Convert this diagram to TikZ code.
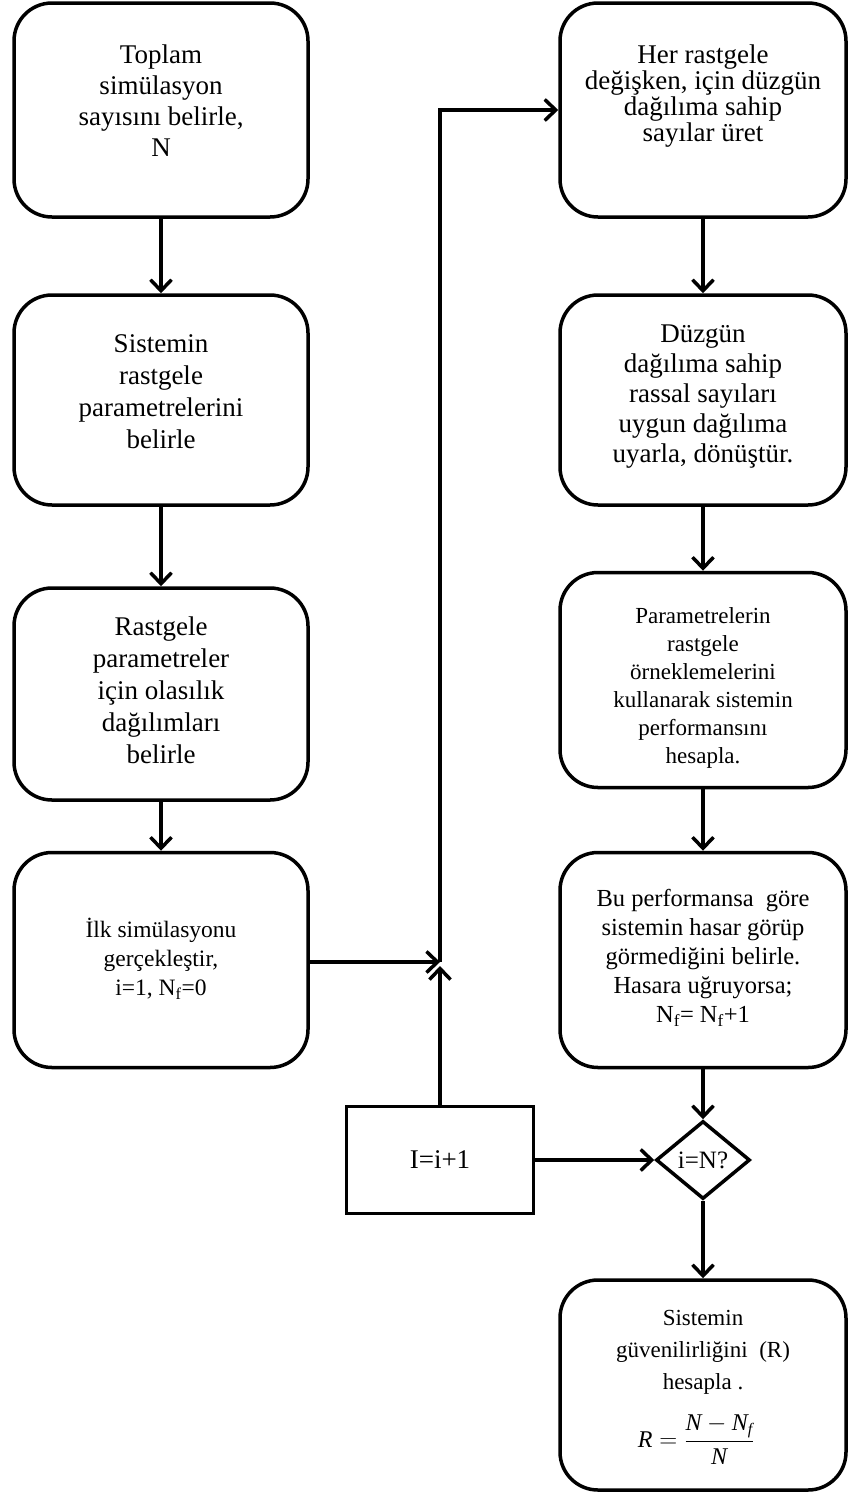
\documentclass[tikz,border=0pt]{standalone}
\usepackage{fontspec}
\setmainfont{Liberation Serif}
\usetikzlibrary{arrows.meta,shapes.geometric}
\begin{document}
\begin{tikzpicture}[x=1pt,y=-1pt,
  box/.style={draw,line width=3.5pt,rounded corners=38pt,inner sep=0pt},
  lbox/.style={box,minimum width=294pt},
  rbox/.style={box,minimum width=286pt},
  txt/.style={align=center,inner sep=0pt},
  fbig/.style={txt,font=\fontsize{27}{31}\selectfont},
  plain/.style={draw,line width=3.5pt,inner sep=0pt,font=\fontsize{27}{31}\selectfont},
  conn/.style={line width=3.5pt,-{Straight Barb[length=11pt,width=21pt]}},
  seg/.style={line width=3.5pt}
]
\useasboundingbox (0,0) rectangle (848,1494);
% left column boxes
\node[lbox,minimum height=214pt] (l1) at (161,110) {};
\node[lbox,minimum height=210pt] (l2) at (161,400) {};
\node[lbox,minimum height=212pt] (l3) at (161,694) {};
\node[lbox,minimum height=215pt] (l4) at (161,960) {};
% right column boxes
\node[rbox,minimum height=214pt] (r1) at (703,110) {};
\node[rbox,minimum height=210pt] (r2) at (703,400) {};
\node[rbox,minimum height=215pt] (r3) at (703,680) {};
\node[rbox,minimum height=215pt] (r4) at (703,960) {};
\node[rbox,minimum height=210pt] (r5) at (703,1385) {};
% texts
\node[fbig] (l1t) at (161,100.5) {Toplam\\simülasyon\\sayısını belirle,\\N};
\node[txt,font=\fontsize{27}{32}\selectfont] (l2t) at (161,392) {Sistemin\\rastgele\\parametrelerini\\belirle};
\node[txt,font=\fontsize{27}{32}\selectfont] (l3t) at (161,690) {Rastgele\\parametreler\\için olasılık\\dağılımları\\belirle};
\node[txt,font=\fontsize{23.5}{29}\selectfont] (l4t) at (161,959) {İlk simülasyonu\\gerçekleştir,\\i=1, N\textsubscript{f}=0};
\node[txt,font=\fontsize{27}{26}\selectfont] (r1t) at (703,96) {Her rastgele\\değişken, için düzgün\\dağılıma sahip\\sayılar üret};
\node[txt,font=\fontsize{27}{30}\selectfont] (r2t) at (703,397) {Düzgün\\dağılıma sahip\\rassal sayıları\\uygun dağılıma\\uyarla, dönüştür.};
\node[txt,font=\fontsize{23}{28}\selectfont] (r3t) at (703,688) {Parametrelerin\\rastgele\\örneklemelerini\\kullanarak sistemin\\performansını\\hesapla.};
\node[txt,font=\fontsize{24.5}{29}\selectfont] (r4t) at (703,958) {Bu performansa\ \ göre\\sistemin hasar görüp\\görmediğini belirle.\\Hasara uğruyorsa;\\N\textsubscript{f}= N\textsubscript{f}+1};
\node[txt,font=\fontsize{23}{32}\selectfont] (r5t) at (703,1352) {Sistemin\\güvenilirliğini\ \ (R)\\hesapla .};
\node[txt,font=\fontsize{24}{28}\selectfont] (r5f) at (696,1440) {$\displaystyle \textit{R} = \frac{\textit{N} - \textit{N}_{\hbox{\fontsize{16}{16}\selectfont\itshape f}}}{\textit{N}}$};
% decision and increment
\node[draw,diamond,line width=3.5pt,inner sep=0pt,minimum width=94pt,minimum height=78pt,font=\fontsize{25}{28}\selectfont] (d) at (703,1160) {i=N?};
\node[plain,minimum width=187pt,minimum height=107pt] (inc) at (440,1160) {I=i+1};
\coordinate (j) at (440,962);
\coordinate (ju) at (440,966);
\coordinate (c) at (440,110);
% connectors
\draw[conn] (l1.south) -- (l2.north);
\draw[conn] (l2.south) -- (l3.north);
\draw[conn] (l3.south) -- (l4.north);
\draw[conn] (l4.east |- j) -- (j);
\draw[conn] (inc.north) -- (ju);
\draw[conn] (j) -- (c) -- (r1.west |- c);
\draw[conn] (r1.south) -- (r2.north);
\draw[conn] (r2.south) -- (r3.north);
\draw[conn] (r3.south) -- (r4.north);
\draw[conn] (r4.south) -- (d.north);
\draw[conn] (inc.east) -- (d.west);
\draw[conn] (d.south) -- (r5.north);
\end{tikzpicture}
\end{document}
